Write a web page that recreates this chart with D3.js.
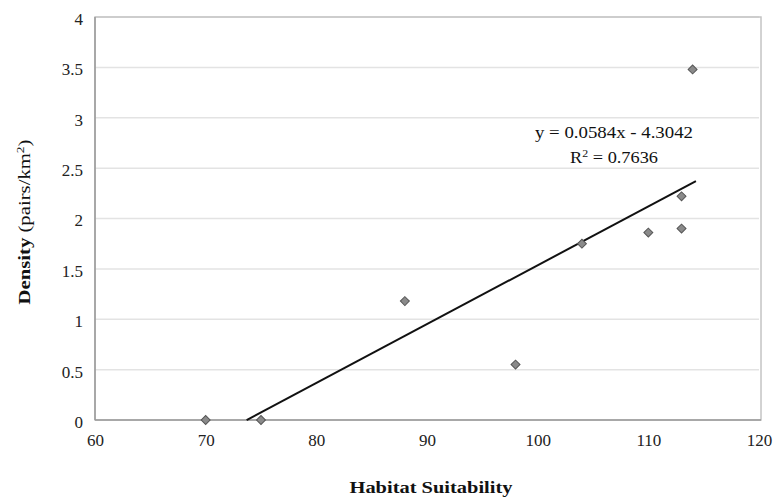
<!DOCTYPE html>
<html><head><meta charset="utf-8">
<script src="https://cdn.jsdelivr.net/npm/d3@7"></script>
<style>body{margin:0;background:#fff}</style>
</head><body>
<script>
const suitability = [70, 75, 88, 98, 104, 110, 113, 113, 114];
const density = [0, 0, 1.18, 0.55, 1.75, 1.86, 1.90, 2.22, 3.48];
const xTicks = [60, 70, 80, 90, 100, 110, 120];
const yTicks = [0, 0.5, 1, 1.5, 2, 2.5, 3, 3.5, 4];
const slope = 0.0584, intercept = -4.3042;
const trendX = [73.7, 114.3];

const W = 775, H = 504;
const FONT = "Liberation Serif, DejaVu Serif, serif";
const svg = d3.select("body").append("svg").attr("width", W).attr("height", H);

const x = d3.scaleLinear().domain([60, 120]).range([95, 759]);
const y = d3.scaleLinear().domain([0, 4]).range([420, 17]);

// grid
svg.append("g").selectAll("line").data(yTicks.slice(1)).join("line")
  .attr("x1", x(60)).attr("x2", x(120))
  .attr("y1", d => y(d)).attr("y2", d => y(d))
  .attr("stroke", "#e3e3e3").attr("stroke-width", 1.5);

// frame
svg.append("rect").attr("x", x(60)).attr("y", y(4))
  .attr("width", x(120) - x(60) + 2).attr("height", y(0) - y(4))
  .attr("fill", "none").attr("stroke", "#c4c4c4").attr("stroke-width", 1.5);
svg.append("line").attr("x1", x(60)).attr("x2", x(120) + 2).attr("y1", y(0)).attr("y2", y(0))
  .attr("stroke", "#9a9a9a").attr("stroke-width", 1.5);
svg.append("line").attr("x1", x(60)).attr("x2", x(60)).attr("y1", y(0)).attr("y2", y(4))
  .attr("stroke", "#9a9a9a").attr("stroke-width", 1.5);

// axes labels
const xAxis = d3.axisBottom(x).tickValues(xTicks).tickSize(0).tickPadding(14);
const gx = svg.append("g").attr("transform", `translate(0,${y(0)})`).call(xAxis);
gx.attr("font-family", FONT).attr("font-size", 17);
gx.select(".domain").remove();
gx.selectAll("text").attr("fill", "#222");

const yAxis = d3.axisLeft(y).tickValues(yTicks).tickSize(0).tickPadding(12).tickFormat(d => String(d));
const gy = svg.append("g").attr("transform", `translate(${x(60)},2)`).call(yAxis);
gy.attr("font-family", FONT).attr("font-size", 17);
gy.select(".domain").remove();
gy.selectAll("text").attr("fill", "#222");

// trendline
svg.append("line")
  .attr("x1", x(trendX[0])).attr("y1", y(slope * trendX[0] + intercept))
  .attr("x2", x(trendX[1])).attr("y2", y(slope * trendX[1] + intercept))
  .attr("stroke", "#111").attr("stroke-width", 2);

// points
svg.append("g").selectAll("path").data(suitability.map((s, i) => [s, density[i]])).join("path")
  .attr("d", d3.symbol().type(d3.symbolSquare).size(40))
  .attr("transform", d => `translate(${x(d[0])},${y(d[1])}) rotate(45)`)
  .attr("fill", "#8a8a8a").attr("stroke", "#555").attr("stroke-width", 1);

// equation
svg.append("text").attr("x", 614).attr("y", 138).attr("text-anchor", "middle")
  .attr("font-family", FONT).attr("font-size", 17).attr("fill", "#111")
  .attr("textLength", 158).attr("lengthAdjust", "spacingAndGlyphs")
  .text("y = 0.0584x - 4.3042");
const r2 = svg.append("text").attr("x", 614).attr("y", 163).attr("text-anchor", "middle")
  .attr("font-family", FONT).attr("font-size", 17).attr("fill", "#111")
  .attr("textLength", 88).attr("lengthAdjust", "spacingAndGlyphs");
r2.append("tspan").text("R");
r2.append("tspan").attr("dy", -6).attr("font-size", 11).text("2");
r2.append("tspan").attr("dy", 6).text(" = 0.7636");

// y title
const yt = svg.append("text").attr("transform", "translate(30,222) rotate(-90)")
  .attr("text-anchor", "middle").attr("font-family", FONT).attr("font-size", 17).attr("fill", "#111")
  .attr("textLength", 165).attr("lengthAdjust", "spacingAndGlyphs");
yt.append("tspan").attr("font-weight", "bold").text("Density");
yt.append("tspan").text(" (pairs/km");
yt.append("tspan").attr("dy", -6).attr("font-size", 11).text("2");
yt.append("tspan").attr("dy", 6).text(")");

// x title
svg.append("text").attr("x", 431).attr("y", 493).attr("text-anchor", "middle")
  .attr("font-family", FONT).attr("font-size", 17).attr("font-weight", "bold").attr("fill", "#111")
  .attr("textLength", 163).attr("lengthAdjust", "spacingAndGlyphs")
  .text("Habitat Suitability");
</script>
</body></html>
